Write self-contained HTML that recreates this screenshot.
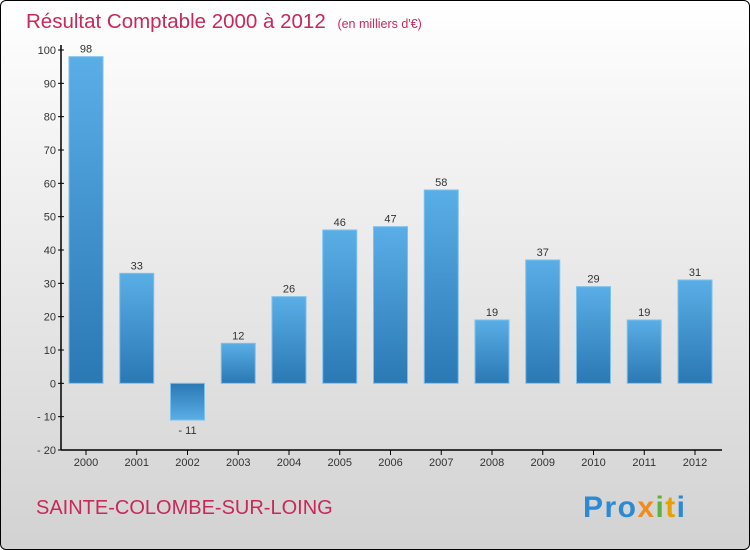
<!DOCTYPE html>
<html><head><meta charset="utf-8"><style>
body{margin:0;width:750px;height:550px;overflow:hidden;font-family:"Liberation Sans",sans-serif}
#bg{position:absolute;left:0;top:0;width:748px;height:548px;border:1px solid #000;border-radius:6px;background:linear-gradient(#ffffff,#d2d2d2)}
svg{position:absolute;left:0;top:0}
</style></head><body>
<div id="bg"></div>
<svg width="750" height="550" id="chart">
<defs>
<linearGradient id="gp" x1="0" y1="0" x2="0" y2="1"><stop offset="0" stop-color="#5aaee6"/><stop offset="1" stop-color="#2a78b4"/></linearGradient>
<linearGradient id="gn" x1="0" y1="0" x2="0" y2="1"><stop offset="0" stop-color="#2a78b4"/><stop offset="1" stop-color="#5aaee6"/></linearGradient>
</defs>
<text x="26" y="28" font-size="20.5" fill="#c8285a">Résultat Comptable 2000 à 2012 <tspan font-size="12.5" dx="6">(en milliers d'€)</tspan></text>
<text x="36" y="514" font-size="20" fill="#c8285a">SAINTE-COLOMBE-SUR-LOING</text>
<text x="583" y="517" font-size="30" font-weight="bold" textLength="102"><tspan fill="#2a8ad4">Pro</tspan><tspan fill="#f08c1e">x</tspan><tspan fill="#5ab43c">i</tspan><tspan fill="#e8a000">t</tspan><tspan fill="#2a8ad4">i</tspan></text>
<g id="plot"></g>
</svg>
<script>
const categories=["2000","2001","2002","2003","2004","2005","2006","2007","2008","2009","2010","2011","2012"];
const values=[98,33,-11,12,26,46,47,58,19,37,29,19,31];
const yTicks=[-20,-10,0,10,20,30,40,50,60,70,80,90,100];
const NS="http://www.w3.org/2000/svg";
const g=document.getElementById('plot');
const y=v=>383.33-v*3.3333;
const x=i=>86+i*50.75;
function el(t,a){const e=document.createElementNS(NS,t);for(const k in a)e.setAttribute(k,a[k]);g.appendChild(e);return e;}
const ya=el('line',{x1:61,y1:45,x2:61,y2:450,stroke:'#000','stroke-width':1.5});


const xa=el('line',{x1:61,y1:450,x2:722,y2:450,stroke:'#000','stroke-width':1.5});


yTicks.forEach(v=>{
 el('line',{x1:58,y1:y(v),x2:64,y2:y(v),stroke:'#000'});
 const t=el('text',{x:56,y:y(v)+4,'text-anchor':'end','font-size':11,fill:'#333'});
 t.textContent=v<0?'- '+(-v):v;
 
 
});
categories.forEach((c,i)=>{
 const v=values[i];
 el('line',{x1:x(i),y1:450,x2:x(i),y2:455,stroke:'#000'});
 const t=el('text',{x:x(i),y:466,'text-anchor':'middle','font-size':11,fill:'#333'});
 t.textContent=c;
 
 
 const top=Math.min(y(v),y(0)),h=Math.abs(y(v)-y(0));
 const r=el('rect',{x:x(i)-17,y:top,width:34,height:h,fill:v<0?'url(#gn)':'url(#gp)',stroke:'#7cc0ee','stroke-width':1});
 
 
 const l=el('text',{x:x(i),y:v<0?y(v)+14:y(v)-4,'text-anchor':'middle','font-size':11,fill:'#333'});
 l.textContent=v<0?'- '+(-v):v;
 
 
});
</script>
</body></html>
